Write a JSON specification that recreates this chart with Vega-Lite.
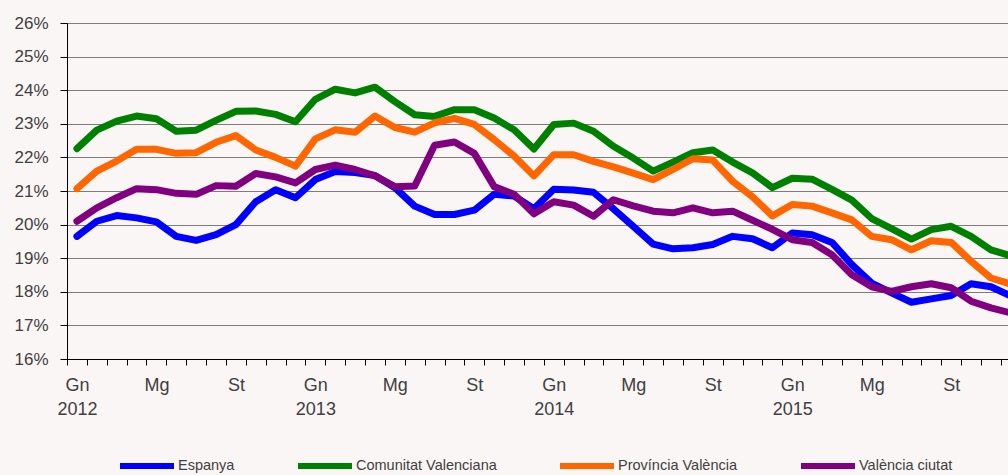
{
  "$schema": "https://vega.github.io/schema/vega-lite/v6.json",
  "width": 941,
  "height": 336,
  "autosize": "none",
  "padding": {"left": 67, "top": 23, "right": 0, "bottom": 116},
  "background": "#FBF6F6",
  "config": {"view": {"stroke": null}, "font": "Liberation Sans"},
  "data": {"values": [
    {"i": 0, "mes": "2012-01", "Espanya": 19.65, "Comunitat Valenciana": 22.26, "Província València": 21.07, "València ciutat": 20.10},
    {"i": 1, "mes": "2012-02", "Espanya": 20.10, "Comunitat Valenciana": 22.81, "Província València": 21.59, "València ciutat": 20.50},
    {"i": 2, "mes": "2012-03", "Espanya": 20.27, "Comunitat Valenciana": 23.08, "Província València": 21.89, "València ciutat": 20.80},
    {"i": 3, "mes": "2012-04", "Espanya": 20.20, "Comunitat Valenciana": 23.23, "Província València": 22.24, "València ciutat": 21.07},
    {"i": 4, "mes": "2012-05", "Espanya": 20.08, "Comunitat Valenciana": 23.15, "Província València": 22.24, "València ciutat": 21.04},
    {"i": 5, "mes": "2012-06", "Espanya": 19.65, "Comunitat Valenciana": 22.78, "Província València": 22.12, "València ciutat": 20.93},
    {"i": 6, "mes": "2012-07", "Espanya": 19.53, "Comunitat Valenciana": 22.81, "Província València": 22.14, "València ciutat": 20.90},
    {"i": 7, "mes": "2012-08", "Espanya": 19.70, "Comunitat Valenciana": 23.10, "Província València": 22.45, "València ciutat": 21.16},
    {"i": 8, "mes": "2012-09", "Espanya": 20.00, "Comunitat Valenciana": 23.37, "Província València": 22.65, "València ciutat": 21.14},
    {"i": 9, "mes": "2012-10", "Espanya": 20.68, "Comunitat Valenciana": 23.38, "Província València": 22.22, "València ciutat": 21.52},
    {"i": 10, "mes": "2012-11", "Espanya": 21.04, "Comunitat Valenciana": 23.28, "Província València": 22.00, "València ciutat": 21.42},
    {"i": 11, "mes": "2012-12", "Espanya": 20.80, "Comunitat Valenciana": 23.06, "Província València": 21.74, "València ciutat": 21.24},
    {"i": 12, "mes": "2013-01", "Espanya": 21.34, "Comunitat Valenciana": 23.73, "Província València": 22.55, "València ciutat": 21.64},
    {"i": 13, "mes": "2013-02", "Espanya": 21.58, "Comunitat Valenciana": 24.03, "Província València": 22.82, "València ciutat": 21.77},
    {"i": 14, "mes": "2013-03", "Espanya": 21.55, "Comunitat Valenciana": 23.92, "Província València": 22.75, "València ciutat": 21.64},
    {"i": 15, "mes": "2013-04", "Espanya": 21.46, "Comunitat Valenciana": 24.09, "Província València": 23.23, "València ciutat": 21.45},
    {"i": 16, "mes": "2013-05", "Espanya": 21.10, "Comunitat Valenciana": 23.66, "Província València": 22.89, "València ciutat": 21.13},
    {"i": 17, "mes": "2013-06", "Espanya": 20.55, "Comunitat Valenciana": 23.27, "Província València": 22.75, "València ciutat": 21.15},
    {"i": 18, "mes": "2013-07", "Espanya": 20.30, "Comunitat Valenciana": 23.22, "Província València": 23.03, "València ciutat": 22.36},
    {"i": 19, "mes": "2013-08", "Espanya": 20.30, "Comunitat Valenciana": 23.42, "Província València": 23.16, "València ciutat": 22.46},
    {"i": 20, "mes": "2013-09", "Espanya": 20.43, "Comunitat Valenciana": 23.42, "Província València": 22.98, "València ciutat": 22.12},
    {"i": 21, "mes": "2013-10", "Espanya": 20.90, "Comunitat Valenciana": 23.17, "Província València": 22.53, "València ciutat": 21.13},
    {"i": 22, "mes": "2013-11", "Espanya": 20.85, "Comunitat Valenciana": 22.82, "Província València": 22.04, "València ciutat": 20.90},
    {"i": 23, "mes": "2013-12", "Espanya": 20.47, "Comunitat Valenciana": 22.25, "Província València": 21.45, "València ciutat": 20.32},
    {"i": 24, "mes": "2014-01", "Espanya": 21.05, "Comunitat Valenciana": 22.98, "Província València": 22.08, "València ciutat": 20.68},
    {"i": 25, "mes": "2014-02", "Espanya": 21.03, "Comunitat Valenciana": 23.02, "Província València": 22.08, "València ciutat": 20.58},
    {"i": 26, "mes": "2014-03", "Espanya": 20.96, "Comunitat Valenciana": 22.78, "Província València": 21.88, "València ciutat": 20.25},
    {"i": 27, "mes": "2014-04", "Espanya": 20.47, "Comunitat Valenciana": 22.33, "Província València": 21.72, "València ciutat": 20.74},
    {"i": 28, "mes": "2014-05", "Espanya": 19.95, "Comunitat Valenciana": 21.98, "Província València": 21.53, "València ciutat": 20.56},
    {"i": 29, "mes": "2014-06", "Espanya": 19.42, "Comunitat Valenciana": 21.59, "Província València": 21.34, "València ciutat": 20.40},
    {"i": 30, "mes": "2014-07", "Espanya": 19.28, "Comunitat Valenciana": 21.86, "Província València": 21.64, "València ciutat": 20.35},
    {"i": 31, "mes": "2014-08", "Espanya": 19.31, "Comunitat Valenciana": 22.14, "Província València": 21.96, "València ciutat": 20.50},
    {"i": 32, "mes": "2014-09", "Espanya": 19.41, "Comunitat Valenciana": 22.22, "Província València": 21.92, "València ciutat": 20.35},
    {"i": 33, "mes": "2014-10", "Espanya": 19.65, "Comunitat Valenciana": 21.86, "Província València": 21.29, "València ciutat": 20.40},
    {"i": 34, "mes": "2014-11", "Espanya": 19.58, "Comunitat Valenciana": 21.54, "Província València": 20.83, "València ciutat": 20.13},
    {"i": 35, "mes": "2014-12", "Espanya": 19.31, "Comunitat Valenciana": 21.10, "Província València": 20.26, "València ciutat": 19.86},
    {"i": 36, "mes": "2015-01", "Espanya": 19.75, "Comunitat Valenciana": 21.38, "Província València": 20.60, "València ciutat": 19.55},
    {"i": 37, "mes": "2015-02", "Espanya": 19.70, "Comunitat Valenciana": 21.35, "Província València": 20.55, "València ciutat": 19.47},
    {"i": 38, "mes": "2015-03", "Espanya": 19.47, "Comunitat Valenciana": 21.05, "Província València": 20.35, "València ciutat": 19.10},
    {"i": 39, "mes": "2015-04", "Espanya": 18.81, "Comunitat Valenciana": 20.73, "Província València": 20.14, "València ciutat": 18.51},
    {"i": 40, "mes": "2015-05", "Espanya": 18.26, "Comunitat Valenciana": 20.18, "Província València": 19.65, "València ciutat": 18.15},
    {"i": 41, "mes": "2015-06", "Espanya": 17.97, "Comunitat Valenciana": 19.88, "Província València": 19.55, "València ciutat": 18.01},
    {"i": 42, "mes": "2015-07", "Espanya": 17.69, "Comunitat Valenciana": 19.57, "Província València": 19.25, "València ciutat": 18.15},
    {"i": 43, "mes": "2015-08", "Espanya": 17.79, "Comunitat Valenciana": 19.85, "Província València": 19.52, "València ciutat": 18.24},
    {"i": 44, "mes": "2015-09", "Espanya": 17.89, "Comunitat Valenciana": 19.95, "Província València": 19.47, "València ciutat": 18.12},
    {"i": 45, "mes": "2015-10", "Espanya": 18.24, "Comunitat Valenciana": 19.65, "Província València": 18.91, "València ciutat": 17.72},
    {"i": 46, "mes": "2015-11", "Espanya": 18.15, "Comunitat Valenciana": 19.25, "Província València": 18.41, "València ciutat": 17.52},
    {"i": 47, "mes": "2015-12", "Espanya": 17.88, "Comunitat Valenciana": 19.07, "Província València": 18.23, "València ciutat": 17.37}
  ]},
  "transform": [
    {"fold": ["Espanya", "Comunitat Valenciana", "Província València", "València ciutat"], "as": ["serie", "taxa"]}
  ],
  "mark": {"type": "line", "strokeWidth": 7, "strokeCap": "round", "strokeJoin": "round", "clip": true},
  "encoding": {
    "x": {
      "field": "i", "type": "quantitative",
      "scale": {"domain": [-0.5, 46.86], "nice": false, "zero": false},
      "axis": {
        "title": null, "grid": false,
        "values": [-0.5,0.5,1.5,2.5,3.5,4.5,5.5,6.5,7.5,8.5,9.5,10.5,11.5,12.5,13.5,14.5,15.5,16.5,17.5,18.5,19.5,20.5,21.5,22.5,23.5,24.5,25.5,26.5,27.5,28.5,29.5,30.5,31.5,32.5,33.5,34.5,35.5,36.5,37.5,38.5,39.5,40.5,41.5,42.5,43.5,44.5,45.5,46.5],
        "labelExpr": "(datum.value + 0.5) % 12 == 0 ? ['Gn', '' + (2012 + (datum.value + 0.5) / 12)] : ((datum.value + 0.5) % 12 == 4 ? 'Mg' : ((datum.value + 0.5) % 12 == 8 ? 'St' : ''))",
        "labelOffset": 9.93,
        "labelAlign": "center",
        "labelBaseline": "top",
        "labelFontSize": 18,
        "labelColor": "#404040",
        "labelPadding": 11,
        "labelLineHeight": 24,
        "labelOverlap": false,
        "labelBound": false,
        "labelFlush": false,
        "domainColor": "#000000",
        "tickColor": "#000000",
        "tickSize": 6
      }
    },
    "y": {
      "field": "taxa", "type": "quantitative",
      "scale": {"domain": [16, 26], "nice": false, "zero": false},
      "axis": {
        "title": null,
        "values": [16,17,18,19,20,21,22,23,24,25,26],
        "labelExpr": "datum.value + '%'",
        "grid": true,
        "gridColor": "#000000",
        "gridDash": [1, 1],
        "domainColor": "#000000",
        "tickColor": "#000000",
        "tickSize": 7,
        "labelFontSize": 17,
        "labelColor": "#404040",
        "labelPadding": 12
      }
    },
    "color": {
      "field": "serie", "type": "nominal",
      "scale": {
        "domain": ["Espanya", "Comunitat Valenciana", "Província València", "València ciutat"],
        "range": ["#0000FF", "#008000", "#FF6600", "#800080"]
      },
      "legend": {
        "title": null,
        "orient": "none",
        "legendX": 50,
        "legendY": 413,
        "direction": "horizontal",
        "columns": 4,
        "symbolType": "stroke",
        "symbolSize": 2916,
        "symbolStrokeWidth": 6,
        "labelFontSize": 14.5,
        "labelFont": "Liberation Sans",
        "labelColor": "#404040",
        "labelOffset": 1,
        "columnPadding": 51
      }
    }
  }
}
